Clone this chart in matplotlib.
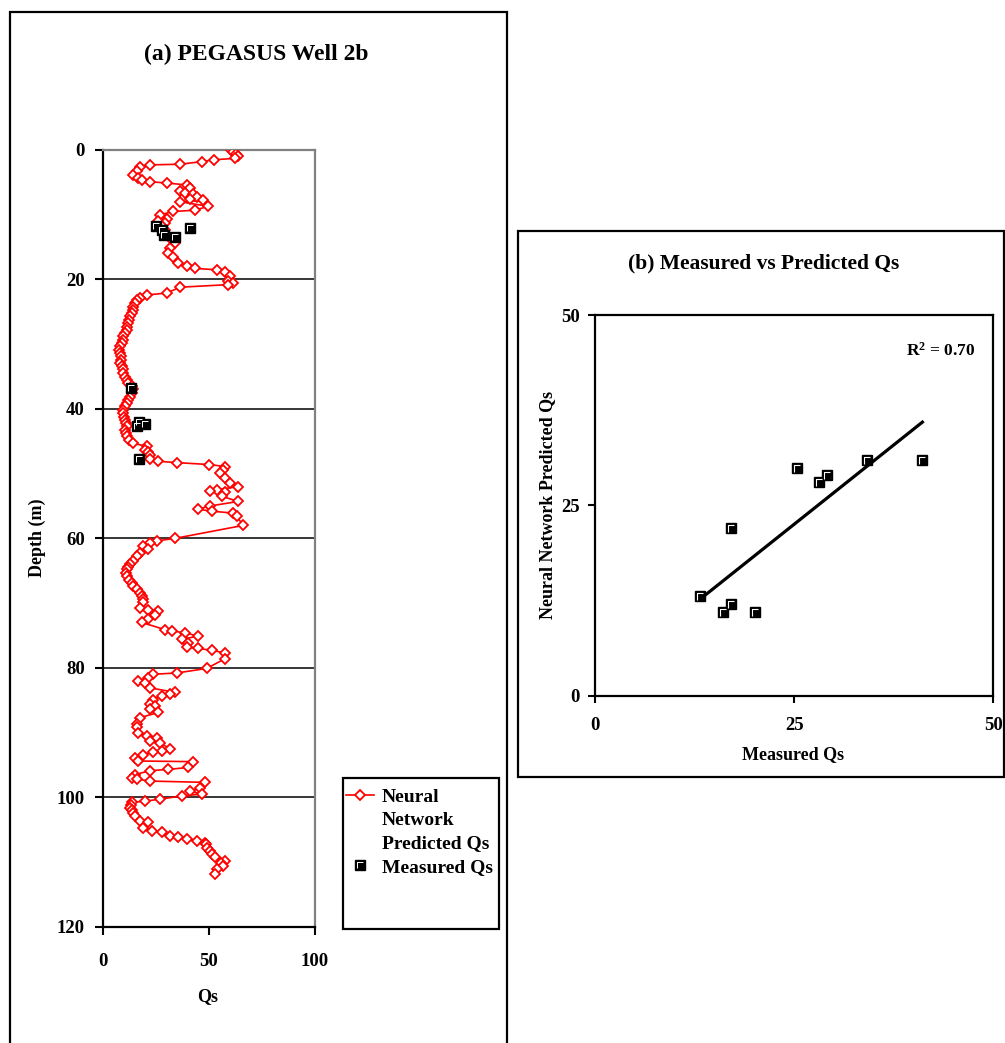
import numpy as np
import matplotlib
matplotlib.use("Agg")
import matplotlib.pyplot as plt
from matplotlib.patches import Rectangle
from matplotlib.path import Path
from matplotlib.lines import Line2D
from matplotlib.legend_handler import HandlerTuple

plt.rcParams["font.family"] = ["Liberation Serif", "DejaVu Serif"]
plt.rcParams["font.weight"] = "bold"
plt.rcParams["mathtext.fontset"] = "custom"
plt.rcParams["mathtext.rm"] = "Liberation Serif:bold"
plt.rcParams["mathtext.bf"] = "Liberation Serif:bold"
plt.rcParams["mathtext.default"] = "bf"

# neural network predicted Qs down the well (depth in m)
pred_depth = [0.0, 0.3, 0.6, 0.9, 1.3, 1.5, 1.8, 2.2, 2.3, 2.6, 3.3, 3.9, 4.4, 4.6, 4.9, 5.1, 5.4,
              5.9, 6.4, 6.7, 6.8, 7.2, 7.6, 7.8, 8.0, 8.7, 9.3, 9.5, 10.0, 10.6, 11.0, 11.3, 11.8,
              12.3, 13.1, 13.9, 14.4, 15.2, 15.9, 16.6, 17.5, 17.9, 18.3, 18.5, 18.9, 19.5, 20.3,
              20.6, 20.8, 21.2, 22.1, 22.4, 22.9, 23.1, 23.6, 24.2, 24.7, 25.2, 25.7, 26.2, 26.7,
              27.3, 27.8, 28.3, 28.8, 29.3, 29.8, 30.3, 30.9, 31.4, 31.9, 32.4, 32.9, 33.4, 33.9,
              34.5, 35.0, 35.5, 36.0, 36.5, 37.0, 37.5, 38.1, 38.6, 39.1, 39.6, 40.1, 40.6, 41.2,
              41.7, 42.2, 42.7, 43.2, 43.7, 44.2, 44.8, 45.3, 45.8, 46.3, 46.6, 47.1, 47.8, 48.1,
              48.3, 48.6, 48.9, 49.4, 49.9, 50.7, 51.4, 52.0, 52.5, 52.7, 52.8, 53.5, 54.3, 55.0,
              55.5, 55.8, 56.1, 56.6, 58.0, 60.0, 60.4, 60.7, 61.2, 61.7, 62.2, 62.8, 63.5, 64.0,
              64.5, 64.8, 65.3, 65.8, 66.4, 66.9, 67.4, 67.9, 68.4, 68.9, 69.4, 69.9, 70.7, 71.0,
              71.2, 71.8, 72.5, 73.0, 74.1, 74.3, 74.6, 75.1, 75.6, 76.1, 76.8, 77.0, 77.3, 77.7,
              78.6, 80.1, 80.8, 81.0, 81.5, 82.1, 82.4, 83.1, 83.8, 84.1, 84.3, 84.9, 85.6, 85.9,
              86.4, 86.9, 87.7, 88.7, 89.2, 90.0, 90.5, 90.8, 91.3, 91.6, 92.5, 92.9, 93.0, 93.4,
              93.9, 94.4, 94.5, 95.4, 95.7, 95.9, 96.5, 97.0, 97.2, 97.5, 97.7, 98.5, 99.1, 99.5,
              99.8, 100.3, 100.6, 100.8, 101.2, 101.6, 102.0, 102.4, 102.9, 103.7, 103.9, 104.7,
              105.2, 105.4, 106.0, 106.2, 106.5, 106.7, 107.0, 107.3, 107.8, 108.3, 108.8, 109.3,
              109.8, 110.2, 110.6, 111.1, 111.9]
pred_qs = [60.5, 61.5, 63.0, 63.5, 62.3, 52.4, 46.6, 36.4, 22.3, 17.6, 16.0, 14.4, 16.8, 18.4, 22.3,
           30.1, 39.6, 41.1, 36.4, 38.8, 42.7, 44.3, 41.1, 47.4, 36.4, 49.7, 43.5, 33.3, 27.0, 30.1,
           26.2, 29.3, 27.8, 29.3, 30.1, 32.5, 34.1, 31.7, 30.9, 33.3, 35.6, 39.6, 43.5, 53.7, 57.6,
           60.0, 59.2, 61.5, 59.2, 36.4, 30.1, 20.7, 17.6, 16.0, 15.2, 14.4, 14.1, 13.7, 12.9, 12.5,
           12.1, 11.6, 11.3, 10.5, 9.7, 9.7, 8.9, 8.1, 7.8, 8.1, 8.5, 8.5, 8.1, 8.9, 9.4, 9.7, 10.5,
           11.3, 12.1, 13.7, 14.1, 13.7, 12.9, 12.1, 11.3, 10.5, 9.7, 9.7, 10.2, 10.5, 11.0, 11.3,
           10.5, 11.0, 11.6, 12.5, 14.4, 20.7, 19.9, 21.5, 22.3, 22.3, 26.2, 35.1, 50.2, 57.6, 56.8,
           55.3, 57.6, 60.0, 63.9, 53.7, 50.5, 57.6, 56.1, 63.9, 50.5, 45.0, 51.3, 61.5, 63.1, 66.2,
           34.1, 25.4, 22.3, 19.1, 21.5, 17.6, 16.0, 14.4, 12.9, 12.1, 11.3, 11.0, 11.3, 12.5, 13.7,
           14.4, 16.0, 17.6, 18.4, 19.1, 18.8, 17.6, 21.5, 26.2, 24.6, 21.5, 18.4, 29.3, 32.5, 38.8,
           45.0, 37.2, 40.3, 39.6, 45.0, 51.3, 57.6, 57.6, 49.0, 34.9, 23.8, 21.5, 16.8, 19.9, 22.3,
           34.1, 31.7, 27.8, 23.8, 22.3, 24.6, 22.3, 26.2, 17.6, 16.0, 16.0, 16.8, 20.7, 25.4, 22.3,
           27.0, 31.7, 27.8, 23.8, 19.1, 15.2, 16.8, 42.7, 40.3, 30.9, 22.3, 15.2, 13.7, 16.0, 22.3,
           48.2, 45.8, 41.1, 47.0, 37.2, 27.0, 19.9, 13.7, 13.2, 12.9, 13.6, 14.4, 15.2, 17.6, 21.5,
           19.1, 23.1, 27.8, 31.7, 35.6, 39.6, 44.3, 48.2, 48.5, 49.0, 50.5, 51.5, 52.9, 57.6, 55.5,
           56.8, 53.7, 52.9]

# measured Qs samples and the network prediction at the same depth
meas_depth = [11.7, 12.0, 12.3, 13.1, 13.5, 36.7, 42.1, 42.6, 42.3, 47.8]
meas_qs = [25.3, 41.1, 28.1, 29.1, 34.2, 13.2, 17.1, 16.1, 20.1, 17.1]
meas_pred = [29.9, 30.9, 28.1, 29.0, 30.9, 13.1, 12.1, 11.0, 11.0, 22.0]

W, H = 1005, 1043


def fx(px):
    return px / W


def fy(py):
    return 1 - py / H


# white highlight inside the black squares (old excel look)
corner = Path([(-0.5, -0.5), (0.5, 0.5), (-0.3, -0.36), (-0.3, 0.3), (0.33, 0.3)],
              [Path.MOVETO, Path.MOVETO, Path.MOVETO, Path.LINETO, Path.LINETO])

fig = plt.figure(figsize=(W / 100, H / 100), dpi=100)

# panel frames
fig.add_artist(Rectangle((fx(9.5), -0.05), fx(507) - fx(9.5), fy(11.5) + 0.05,
                         transform=fig.transFigure, fill=False, ec="black", lw=1.6))
fig.add_artist(Rectangle((fx(518), fy(777)), fx(1003.5) - fx(518), fy(231) - fy(777),
                         transform=fig.transFigure, fill=False, ec="black", lw=1.6))

# ---- (a) depth profile
ax1 = fig.add_axes([fx(102.7), fy(926.7), fx(315) - fx(102.7), fy(150) - fy(926.7)])
h_pred, = ax1.plot(pred_qs, pred_depth, color="red", lw=1.2, marker="D", ms=5,
                   mfc="white", mec="red", mew=1.3, zorder=3)
h_sq, = ax1.plot(meas_qs, meas_depth, ls="none", marker="s", ms=7, mfc="black",
                 mec="black", mew=1, zorder=4)
h_cn, = ax1.plot(meas_qs, meas_depth, ls="none", marker=corner, ms=7, mfc="none",
                 mec="white", mew=0.7, zorder=5)
ax1.set_xlim(0, 100)
ax1.set_ylim(120, 0)
ax1.set_xticks([0, 50, 100])
ax1.set_yticks(np.arange(0, 121, 20))
ax1.yaxis.grid(True, color="black", lw=1.1)
ax1.set_axisbelow(True)
gl = ax1.yaxis.get_gridlines()
gl[0].set_visible(False)
gl[-1].set_visible(False)
for s in ["left", "bottom"]:
    ax1.spines[s].set_color("black")
    ax1.spines[s].set_linewidth(1.6)
for s in ["top", "right"]:
    ax1.spines[s].set_color("#808080")
    ax1.spines[s].set_linewidth(1.6)
ax1.tick_params(axis="y", direction="out", length=6, width=1.5, labelsize=13.5, pad=7)
ax1.tick_params(axis="x", direction="out", length=6, width=1.5, labelsize=13.5, pad=13)

fig.text(fx(256), fy(54), "(a) PEGASUS Well 2b", ha="center", va="center", fontsize=17,
         fontweight="bold")
fig.text(fx(37), fy(538), "Depth (m)", ha="center", va="center", rotation=90, fontsize=13,
         fontweight="bold")
fig.text(fx(208), fy(997), "Qs", ha="center", va="center", fontsize=13, fontweight="bold")

# legend
fig.add_artist(Rectangle((fx(343), fy(929)), fx(499) - fx(343), fy(778) - fy(929),
                         transform=fig.transFigure, fill=False, ec="black", lw=1.6))
blank = Line2D([], [], ls="none")
ax1.legend(handles=[h_pred, blank, blank, (h_sq, h_cn)],
           labels=["Neural", "Network", "Predicted Qs", "Measured Qs"],
           handler_map={tuple: HandlerTuple(ndivide=1)},
           loc="upper left", bbox_to_anchor=(fx(346), fy(788)), bbox_transform=fig.transFigure,
           frameon=False, fontsize=14, handlelength=1.45, handletextpad=0.4,
           labelspacing=0.3, borderpad=0, borderaxespad=0, numpoints=1)

# ---- (b) measured vs predicted
ax2 = fig.add_axes([fx(595), fy(695.7), fx(993.3) - fx(595), fy(315) - fy(695.7)])
coef = np.polyfit(meas_qs, meas_pred, 1)
xs = np.array([min(meas_qs), max(meas_qs)])
ax2.plot(xs, np.polyval(coef, xs), color="black", lw=2.3, zorder=2)
ax2.plot(meas_qs, meas_pred, ls="none", marker="s", ms=7.6, mfc="black", mec="black", mew=1,
         zorder=3)
ax2.plot(meas_qs, meas_pred, ls="none", marker=corner, ms=7.6, mfc="none", mec="white", mew=0.8,
         zorder=4)
r2 = np.corrcoef(meas_qs, meas_pred)[0, 1] ** 2
ax2.text(0.955, 0.905, "R$^{2}$ = %.2f" % r2, transform=ax2.transAxes, ha="right", va="center",
         fontsize=12.5, fontweight="bold")
ax2.set_xlim(0, 50)
ax2.set_ylim(0, 50)
ax2.set_xticks([0, 25, 50])
ax2.set_yticks([0, 25, 50])
for s in ax2.spines.values():
    s.set_linewidth(1.6)
    s.set_color("black")
ax2.tick_params(axis="y", direction="out", length=5, width=1.5, labelsize=13.5, pad=6)
ax2.tick_params(axis="x", direction="out", length=5, width=1.5, labelsize=13.5, pad=10)

fig.text(fx(764), fy(263), "(b) Measured vs Predicted Qs", ha="center", va="center",
         fontsize=15.5, fontweight="bold")
fig.text(fx(548), fy(505), "Neural Network Predicted Qs", ha="center", va="center",
         rotation=90, fontsize=13, fontweight="bold")
fig.text(fx(793), fy(755), "Measured Qs", ha="center", va="center", fontsize=13,
         fontweight="bold")

fig.savefig("out.png", dpi=100)
